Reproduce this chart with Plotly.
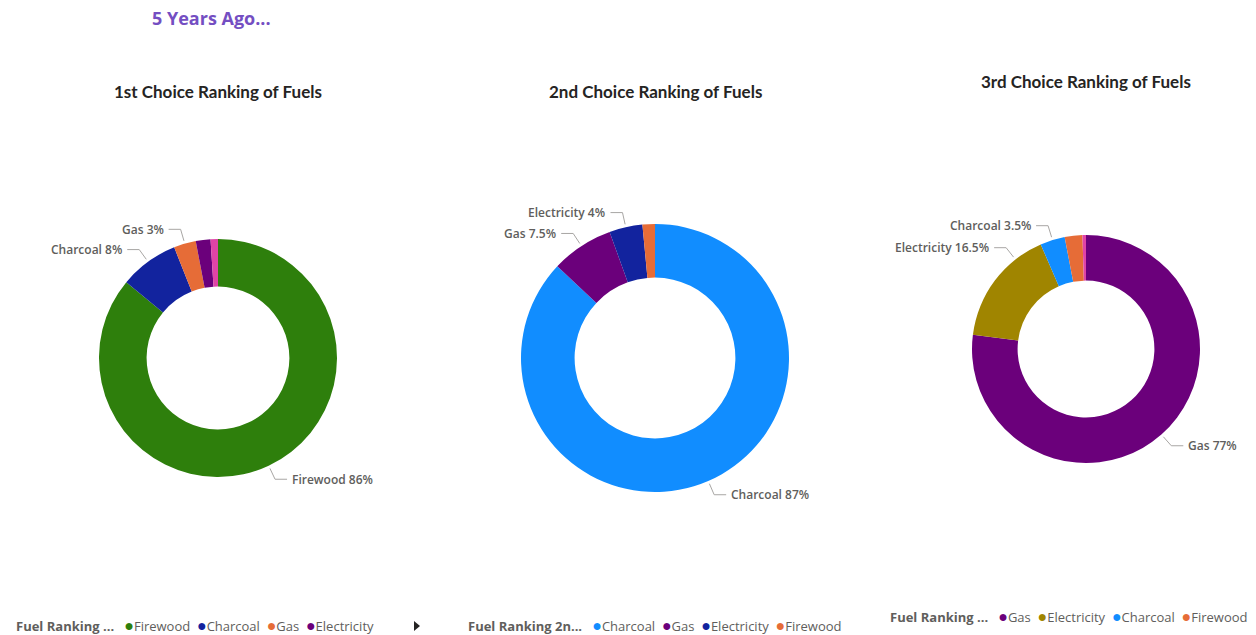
import math
import plotly.graph_objects as go

W, H = 1256, 635

# ---- data: share of households (%) by fuel, per choice ranking ----
fuels_1st = ["Firewood", "Charcoal", "Gas", "Electricity", "Other"]
share_1st = [86, 8, 3, 2, 1]

fuels_2nd = ["Charcoal", "Gas", "Electricity", "Firewood"]
share_2nd = [87, 7.5, 4, 1.5]

fuels_3rd = ["Gas", "Electricity", "Charcoal", "Firewood", "Other"]
share_3rd = [77, 16.5, 3.5, 2.5, 0.5]

# slices that carry a data label
labelled_1st = ["Firewood", "Charcoal", "Gas"]
labelled_2nd = ["Charcoal", "Gas", "Electricity"]
labelled_3rd = ["Gas", "Electricity", "Charcoal"]

# entries shown in each legend strip
legend_1st = ["Firewood", "Charcoal", "Gas", "Electricity"]
legend_2nd = ["Charcoal", "Gas", "Electricity", "Firewood"]
legend_3rd = ["Gas", "Electricity", "Charcoal", "Firewood"]

legend_titles = ["Fuel Ranking ...", "Fuel Ranking 2n...", "Fuel Ranking ..."]
chart_titles = ["1st Choice Ranking of Fuels", "2nd Choice Ranking of Fuels",
                "3rd Choice Ranking of Fuels"]
page_title = "5 Years Ago..."

# ---- styling ----
COLORS = [
    {"Firewood": "#2E7F0C", "Charcoal": "#12239E", "Gas": "#E66C37",
     "Electricity": "#6B007B", "Other": "#E044A7"},
    {"Charcoal": "#118DFF", "Gas": "#6B007B", "Electricity": "#12239E",
     "Firewood": "#E66C37"},
    {"Gas": "#6B007B", "Electricity": "#A08500", "Charcoal": "#118DFF",
     "Firewood": "#E66C37", "Other": "#E044A7"},
]
# donut centre (px) and outer radius (px)
GEOM = [(218, 358, 119), (655, 358, 134), (1086, 349, 114)]
TITLE_Y = [91, 91, 82]
LEGEND_Y = [625, 625, 616]
LEGEND_X = [14, 466, 888]
# where along a slice the leader line attaches (fraction of the slice span)
ANCHOR_FRAC = {(2, "Electricity"): 0.75}

LABEL_FONT = dict(family="Open Sans", size=12, color="#605E5C", weight=600)
LINE_COLOR = "#A8A6A4"
NBSP = "&nbsp;"


def px(x):
    return x / W


def py(y):
    return 1 - y / H


pies = [
    (fuels_1st, share_1st, labelled_1st, legend_1st),
    (fuels_2nd, share_2nd, labelled_2nd, legend_2nd),
    (fuels_3rd, share_3rd, labelled_3rd, legend_3rd),
]

fig = go.Figure()
annotations = []
shapes = []

for i, (fuels, shares, labelled, legend_items) in enumerate(pies):
    cx, cy, r = GEOM[i]
    fig.add_trace(go.Pie(
        labels=fuels,
        values=shares,
        hole=0.6,
        sort=False,
        direction="clockwise",
        rotation=0,
        textinfo="none",
        showlegend=False,
        marker=dict(colors=[COLORS[i][f] for f in fuels], line=dict(width=0)),
        domain=dict(x=[px(cx - r), px(cx + r)], y=[py(cy + r), py(cy - r)]),
    ))

    # data labels with elbow leader lines
    total = sum(shares)
    cum = 0
    for fuel, val in zip(fuels, shares):
        if fuel in labelled:
            frac = ANCHOR_FRAC.get((i, fuel), 0.5)
            ang = 2 * math.pi * (cum + frac * val) / total
            ux, uy = math.sin(ang), -math.cos(ang)
            side = 1 if ux >= 0 else -1
            x0, y0 = cx + (r + 3) * ux, cy + (r + 3) * uy
            x1, y1 = cx + (r + 15) * ux, cy + (r + 15) * uy
            x2 = x1 + side * 12
            shapes.append(dict(
                type="path", xref="paper", yref="paper",
                path=f"M {px(x0)},{py(y0)} L {px(x1)},{py(y1)} L {px(x2)},{py(y1)}",
                line=dict(color=LINE_COLOR, width=1),
            ))
            annotations.append(dict(
                x=px(x2 + side * 3), y=py(y1), xref="paper", yref="paper",
                text=f"{fuel} {val:g}%", showarrow=False,
                xanchor="left" if side > 0 else "right", yanchor="middle",
                font=LABEL_FONT,
            ))
        cum += val

    # chart title
    annotations.append(dict(
        x=px(cx), y=py(TITLE_Y[i]), xref="paper", yref="paper",
        text=chart_titles[i], showarrow=False, xanchor="center", yanchor="middle",
        font=dict(family="Lato", size=17, color="#252423", weight=700),
    ))

    # legend strip
    parts = [f"<b>{legend_titles[i]}</b>{NBSP}"]
    for item in legend_items:
        parts.append(
            f"{NBSP}{NBSP}<span style='color:{COLORS[i][item]};font-size:16px'>●</span>{item}"
        )
    annotations.append(dict(
        x=px(LEGEND_X[i]), y=py(LEGEND_Y[i]), xref="paper", yref="paper",
        text="".join(parts), showarrow=False, xanchor="left", yanchor="middle",
        font=dict(family="Open Sans", size=13, color="#605E5C"),
    ))

# legend paging arrow on the first strip
ax, ay = 417, 626
shapes.append(dict(
    type="path", xref="paper", yref="paper",
    path=f"M {px(ax - 3)},{py(ay - 5)} L {px(ax + 3)},{py(ay)} L {px(ax - 3)},{py(ay + 5)} Z",
    fillcolor="#252423", line=dict(width=0),
))

annotations.append(dict(
    x=px(150), y=py(18), xref="paper", yref="paper", text=page_title,
    showarrow=False, xanchor="left", yanchor="middle",
    font=dict(family="Open Sans", size=18, color="#744EC2", weight=700),
))

fig.update_layout(
    width=W, height=H,
    margin=dict(l=0, r=0, t=0, b=0),
    paper_bgcolor="white", plot_bgcolor="white",
    annotations=annotations, shapes=shapes,
)

fig.write_html("out.html")
